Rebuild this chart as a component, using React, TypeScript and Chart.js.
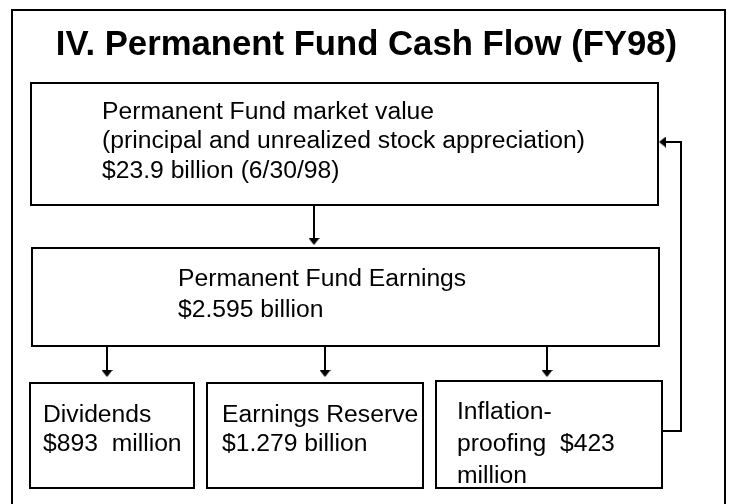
import React, { useEffect, useRef } from "react";
import { Chart, registerables } from "chart.js";

Chart.register(...registerables);

// ---------- content ----------
const TITLE = "IV. Permanent Fund Cash Flow (FY98)";

const NODE_IDS = ["market", "earnings", "dividends", "reserve", "inflation"];

const NODE_LINES: string[][] = [
  ["Permanent Fund market value", "(principal and unrealized stock appreciation)", "$23.9 billion (6/30/98)"],
  ["Permanent Fund Earnings", "$2.595 billion"],
  ["Dividends", "$893  million"],
  ["Earnings Reserve", "$1.279 billion"],
  ["Inflation-", "proofing  $423", "million"],
];

// flows between nodes (from, to)
const FLOWS: [string, string][] = [
  ["market", "earnings"],
  ["earnings", "dividends"],
  ["earnings", "reserve"],
  ["earnings", "inflation"],
  ["inflation", "market"],
];

// ---------- layout (in units of the 730 x 504 scales) ----------
const FRAME = { x0: 12, y0: 10, x1: 725, y1: 520 };

const BOXES: Record<string, [number, number, number, number]> = {
  market: [31, 83, 658, 205],
  earnings: [32, 248, 659, 346],
  dividends: [30, 383, 194, 488],
  reserve: [207, 383, 423, 488],
  inflation: [436, 381, 662, 488],
};

// text anchor: x, first baseline, line step
const TEXT_POS: Record<string, [number, number, number]> = {
  market: [102, 119, 29.3],
  earnings: [178, 286, 30.5],
  dividends: [43, 421.5, 29.5],
  reserve: [222, 421.5, 29.5],
  inflation: [457, 418.5, 32],
};

// connector routes, same order as FLOWS; last point is the arrow tip
const ROUTES: [number, number][][] = [
  [[314, 205], [314, 245]],
  [[107, 346], [107, 377]],
  [[325, 346], [325, 377]],
  [[547, 346], [547, 377]],
  [[662, 431], [681, 431], [681, 142], [659, 142]],
];

const TITLE_POS = { x: 366.5, y: 55 };
const FONT_FAMILY = "'Liberation Sans', Arial, Helvetica, sans-serif";
const INK = "#000000";
const HEAD_W = 11;
const HEAD_H = 7;

function makeHead() {
  const c = document.createElement("canvas");
  c.width = HEAD_W;
  c.height = HEAD_H;
  const g = c.getContext("2d")!;
  g.fillStyle = INK;
  g.beginPath();
  g.moveTo(HEAD_W / 2, 0);
  g.lineTo(HEAD_W, HEAD_H);
  g.lineTo(0, HEAD_H);
  g.closePath();
  g.fill();
  return c;
}

function buildDatasets() {
  const ds: any[] = [];
  const lineBase = {
    showLine: true,
    pointRadius: 0,
    borderColor: INK,
    backgroundColor: "rgba(0,0,0,0)",
    borderWidth: 2,
    fill: false,
    tension: 0,
    borderJoinStyle: "miter",
    borderCapStyle: "square",
    clip: false,
  };
  // outer frame
  ds.push({
    ...lineBase,
    data: [
      { x: FRAME.x0, y: FRAME.y1 },
      { x: FRAME.x0, y: FRAME.y0 },
      { x: FRAME.x1, y: FRAME.y0 },
      { x: FRAME.x1, y: FRAME.y1 },
    ],
  });
  // boxes
  NODE_IDS.forEach((id) => {
    const [x0, y0, x1, y1] = BOXES[id];
    ds.push({
      ...lineBase,
      data: [
        { x: x0, y: y0 },
        { x: x1, y: y0 },
        { x: x1, y: y1 },
        { x: x0, y: y1 },
        { x: x0, y: y0 },
      ],
    });
  });
  // connectors + arrow heads
  const heads: { x: number; y: number }[] = [];
  const rots: number[] = [];
  const half = HEAD_H / 2;
  FLOWS.forEach((_, i) => {
    const pts = ROUTES[i];
    const n = pts.length;
    const [tx, ty] = pts[n - 1];
    const [px, py] = pts[n - 2];
    const len = Math.hypot(tx - px, ty - py);
    const dx = (tx - px) / len;
    const dy = (ty - py) / len;
    const cx = tx - dx * half;
    const cy = ty - dy * half;
    const shaft = pts.slice(0, n - 1).map(([x, y]) => ({ x, y }));
    shaft.push({ x: cx, y: cy });
    ds.push({ ...lineBase, borderCapStyle: "butt", data: shaft });
    heads.push({ x: cx, y: cy });
    rots.push((Math.atan2(dx, -dy) * 180) / Math.PI);
  });
  ds.push({
    showLine: false,
    clip: false,
    data: heads,
    pointStyle: makeHead(),
    pointRadius: HEAD_W / 2,
    pointRotation: rots,
    backgroundColor: INK,
    borderColor: INK,
    borderWidth: 0,
  });
  return ds;
}

const textPlugin = {
  id: "flowText",
  afterDatasetsDraw(chart: any) {
    const { ctx, scales } = chart;
    const sx = (v: number) => scales.x.getPixelForValue(v);
    const sy = (v: number) => scales.y.getPixelForValue(v);
    ctx.save();
    ctx.fillStyle = INK;
    ctx.textBaseline = "alphabetic";
    ctx.font = `bold 34.7px ${FONT_FAMILY}`;
    ctx.textAlign = "center";
    ctx.fillText(TITLE, sx(TITLE_POS.x), sy(TITLE_POS.y));
    ctx.font = `24.7px ${FONT_FAMILY}`;
    ctx.textAlign = "left";
    NODE_IDS.forEach((id, i) => {
      const [x, y, step] = TEXT_POS[id];
      NODE_LINES[i].forEach((line, j) => {
        ctx.fillText(line, sx(x), sy(y + j * step));
      });
    });
    ctx.restore();
  },
};

export default function App() {
  const ref = useRef<HTMLCanvasElement | null>(null);
  useEffect(() => {
    document.body.style.margin = "0";
    const canvas = ref.current;
    if (!canvas) return;
    const chart = new Chart(canvas, {
      type: "scatter",
      data: { datasets: buildDatasets() },
      options: {
        animation: false,
        responsive: false,
        devicePixelRatio: 1,
        events: [],
        layout: { padding: 0, autoPadding: false },
        plugins: {
          legend: { display: false },
          tooltip: { enabled: false },
          title: { display: false },
        },
        scales: {
          x: { type: "linear", min: 0, max: 730, display: false },
          y: { type: "linear", min: 0, max: 504, reverse: true, display: false },
        },
      } as any,
      plugins: [textPlugin],
    });
    return () => chart.destroy();
  }, []);
  return (
    <div style={{ width: 730, height: 504, background: "#ffffff" }}>
      <canvas ref={ref} width={730} height={504} style={{ display: "block" }} />
    </div>
  );
}
